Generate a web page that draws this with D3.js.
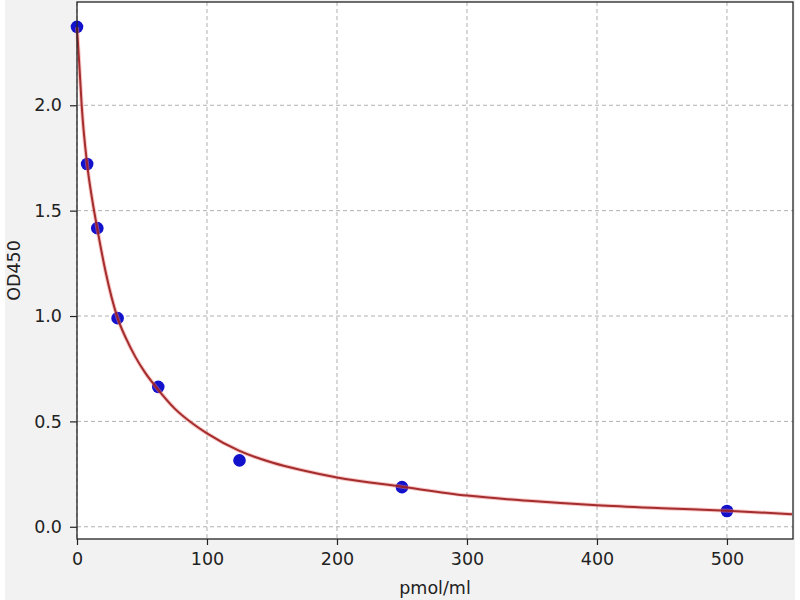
<!DOCTYPE html>
<html>
<head>
<meta charset="utf-8">
<script src="https://cdn.jsdelivr.net/npm/d3@7"></script>
<style>
  html, body { margin: 0; padding: 0; background: #fff; }
  svg { display: block; font-family: "DejaVu Sans", sans-serif; }
</style>
</head>
<body>
<svg id="chart" width="800" height="600"></svg>
<script>
// standard points
const conc = [0, 7.8, 15.6, 31.25, 62.5, 125, 250, 500];
const od = [2.372, 1.721, 1.417, 0.99, 0.664, 0.315, 0.188, 0.075];

// fitted curve
const curveX = [0, 2, 3.6, 7.8, 11.5, 15.6, 22, 31.25, 38, 45, 52, 62.5, 75, 90, 100, 125, 150, 175, 200, 250, 300, 350, 400, 450, 500, 550];
const curveY = [2.37, 2.17, 2.0, 1.72, 1.56, 1.415, 1.21, 0.99, 0.89, 0.805, 0.735, 0.65, 0.562, 0.485, 0.443, 0.36, 0.305, 0.266, 0.234, 0.19, 0.148, 0.122, 0.102, 0.088, 0.076, 0.06];

const xTicks = [0, 100, 200, 300, 400, 500];
const yTicks = [0.0, 0.5, 1.0, 1.5, 2.0];

const svg = d3.select("#chart");
const pLeft = 77, pRight = 793, pTop = 2, pBottom = 539;

svg.append("rect").attr("x", 5).attr("y", 0).attr("width", 790).attr("height", 600).attr("fill", "#f2f2f2");
svg.append("rect").attr("x", pLeft).attr("y", pTop).attr("width", pRight - pLeft).attr("height", pBottom - pTop).attr("fill", "#fff");

const x = d3.scaleLinear().domain([0, 550.8]).range([pLeft, pRight]);
const y = d3.scaleLinear().domain([-0.058, 2.49]).range([pBottom, pTop]);

// grid
svg.append("g").selectAll("line").data(xTicks).join("line")
    .attr("x1", d => x(d)).attr("x2", d => x(d))
    .attr("y1", pTop).attr("y2", pBottom)
    .attr("stroke", "#b0b0b0").attr("stroke-width", 1).attr("stroke-dasharray", "4,3");
svg.append("g").selectAll("line").data(yTicks).join("line")
    .attr("x1", pLeft).attr("x2", pRight)
    .attr("y1", d => y(d)).attr("y2", d => y(d))
    .attr("stroke", "#b0b0b0").attr("stroke-width", 1).attr("stroke-dasharray", "4,3");

// axes
const xAxis = svg.append("g").attr("transform", `translate(0,${pBottom})`)
    .call(d3.axisBottom(x).tickValues(xTicks).tickFormat(d3.format("d")).tickSize(6).tickPadding(8));
const yAxis = svg.append("g").attr("transform", `translate(${pLeft},0)`)
    .call(d3.axisLeft(y).tickValues(yTicks).tickFormat(d3.format(".1f")).tickSize(7).tickPadding(8));
[xAxis, yAxis].forEach(g => {
    g.select(".domain").remove();
    g.selectAll("text").attr("font-size", 17.5).attr("fill", "#222").attr("font-family", "DejaVu Sans, sans-serif");
    g.selectAll("line").attr("stroke", "#222").attr("stroke-width", 1.2);
});

// points
svg.append("g").selectAll("circle").data(conc).join("circle")
    .attr("cx", d => x(d)).attr("cy", (d, i) => y(od[i])).attr("r", 6.3)
    .attr("fill", "#1212cc");

// curve
const line = d3.line().x(d => x(d[0])).y(d => y(d[1])).curve(d3.curveMonotoneX);
const curveData = curveX.map((d, i) => [d, curveY[i]]);
svg.append("path").datum(curveData)
    .attr("d", line).attr("fill", "none")
    .attr("stroke", "#f08080").attr("stroke-width", 4).attr("stroke-opacity", 0.45);
svg.append("path").datum(curveData)
    .attr("d", line).attr("fill", "none")
    .attr("stroke", "#9a1c1c").attr("stroke-width", 2).attr("stroke-opacity", 0.9);

// frame
svg.append("rect").attr("x", pLeft).attr("y", pTop).attr("width", pRight - pLeft).attr("height", pBottom - pTop)
    .attr("fill", "none").attr("stroke", "#222").attr("stroke-width", 1.3);

// labels
svg.append("text").attr("x", (pLeft + pRight) / 2).attr("y", 594).attr("text-anchor", "middle")
    .attr("font-size", 17.5).attr("fill", "#222").text("pmol/ml");
svg.append("text").attr("transform", `translate(20,${(pTop + pBottom) / 2}) rotate(-90)`)
    .attr("text-anchor", "middle").attr("font-size", 17.5).attr("fill", "#222").text("OD450");
</script>
</body>
</html>
